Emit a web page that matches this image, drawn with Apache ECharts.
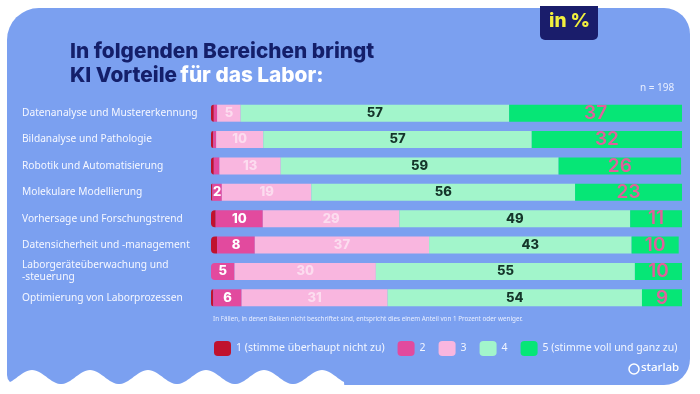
<!DOCTYPE html>
<html><head><meta charset="utf-8">
<script src="https://cdn.jsdelivr.net/npm/echarts@6/dist/echarts.min.js"></script>
<style>html,body{margin:0;padding:0;background:#fff}#c{width:700px;height:394px}</style>
</head><body><div id="c"></div>
<script>
const categories = [
  "Datenanalyse und Mustererkennung",
  "Bildanalyse und Pathologie",
  "Robotik und Automatisierung",
  "Molekulare Modellierung",
  "Vorhersage und Forschungstrend",
  "Datensicherheit und -management",
  "Laborgeräteüberwachung und\n-steuerung",
  "Optimierung von Laborprozessen"
];
const seriesNames = ["1 (stimme überhaupt nicht zu)", "2", "3", "4", "5 (stimme voll und ganz zu)"];
const s1 = [0.6, 0.5, 0.6, 0.3, 1, 1.3, 0, 0.5];
const s2 = [0.7, 0.6, 1.2, 2, 10, 8, 5, 6];
const s3 = [5, 10, 13, 19, 29, 37, 30, 31];
const s4 = [57, 57, 59, 56, 49, 43, 55, 54];
const s5 = [37, 32, 26, 23, 11, 10, 10, 9];
const allSeries = [s1, s2, s3, s4, s5];

const colors = ["#c0122e", "#e24a9e", "#f9b6df", "#a2f5cb", "#06e676"];
const labelColors = ["#ffffff", "#ffffff", "#fcdcef", "#15352a", "#e0609c"];
const labelSizes = [13, 13, 13, 13, 19];
const labelWeights = [800, 800, 800, 800, 600];

const chart = echarts.init(document.getElementById('c'), null, {renderer: 'canvas'});

const series = allSeries.map((arr, si) => ({
  name: seriesNames[si],
  type: 'bar',
  stack: 'total',
  barWidth: 17,
  data: arr.map((v, i) => {
    let first = allSeries.findIndex(a => a[i] > 0);
    return {
      value: v,
      itemStyle: { color: colors[si], borderRadius: si === first ? [4, 0, 0, 4] : 0 }
    };
  }),
  label: {
    show: true,
    position: 'inside',
    formatter: p => (p.value >= 2 ? String(p.value) : ''),
    color: labelColors[si],
    fontFamily: 'Inter',
    fontWeight: labelWeights[si],
    fontSize: labelSizes[si]
  },
  emphasis: { disabled: true }
}));

// decorative wavy bottom edge of the panel
const wavePts = [[0, 394]];
for (let x = 0; x <= 345; x += 2) {
  wavePts.push([x, 377 - 7 * Math.cos(2 * Math.PI * (x - 32) / 58)]);
}
wavePts.push([345, 394]);

chart.setOption({
  animation: false,
  backgroundColor: '#ffffff',
  graphic: [
    { type: 'rect', z: -10, shape: { x: 7, y: 8, width: 683, height: 377, r: [32, 26, 26, 10] }, style: { fill: '#7ba0f0' } },
    { type: 'polygon', z: -9, shape: { points: wavePts }, style: { fill: '#ffffff' } },
    { type: 'rect', z: -8, shape: { x: 540, y: 6, width: 58, height: 34, r: [0, 0, 5, 5] }, style: { fill: '#1a1d6b' } },
    { type: 'text', z: 10, left: 549, top: 12, style: { text: 'in %', fill: '#f1ef3e', font: '800 19px Inter' } },
    { type: 'text', z: 10, left: 70, top: 41, style: {
        text: '{a|In folgenden Bereichen bringt}\n{a|KI Vorteile} {b|für das Labor:}',
        rich: {
          a: { fill: '#141f6a', font: '800 20.8px Inter', lineHeight: 24 },
          b: { fill: '#ffffff', font: '800 20.8px Inter', lineHeight: 24 }
        }
      } },
    { type: 'text', z: 10, left: 640, top: 83, style: { text: 'n = 198', fill: '#e8eeff', font: '10px "Noto Sans"' } },
    { type: 'text', z: 10, left: 213, top: 316, style: { text: 'In Fällen, in denen Balken nicht beschriftet sind, entspricht dies einem Anteil von 1 Prozent oder weniger.', fill: '#e8eeff', font: '6.3px "Noto Sans"' } },
    { type: 'circle', z: 10, shape: { cx: 634, cy: 369, r: 5 }, style: { fill: 'none', stroke: '#ffffff', lineWidth: 1.5 } },
    { type: 'text', z: 10, left: 641, top: 362, style: { text: 'starlab', fill: '#ffffff', font: '500 11.5px "Noto Sans"' } }
  ],
  grid: { left: 211, right: 18, top: 100, height: 211, containLabel: false },
  xAxis: { type: 'value', min: 0, max: 100, show: false },
  yAxis: {
    type: 'category', data: categories, inverse: true,
    axisLine: { show: false }, axisTick: { show: false },
    axisLabel: { align: 'left', margin: 189, color: '#f5f7ff', fontSize: 10.2, fontFamily: 'Noto Sans', lineHeight: 12 }
  },
  legend: {
    left: 209, top: 336, width: 490, itemWidth: 17, itemHeight: 15, itemGap: 13,
    icon: 'roundRect',
    textStyle: { color: '#f3f6ff', fontSize: 10.5, fontFamily: 'Noto Sans' },
    data: seriesNames
  },
  color: colors,
  series: series
});
</script></body></html>
